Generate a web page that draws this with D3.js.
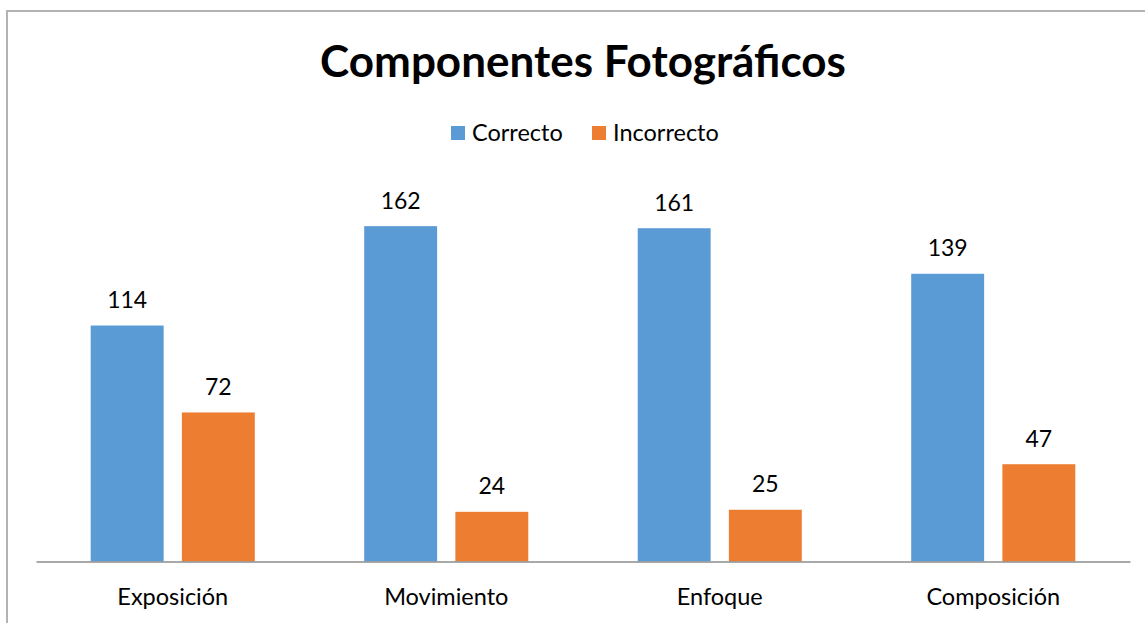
<!doctype html>
<html>
  <head>
    <meta charset="UTF-8">
    <title>Componentes Fotográficos</title>
    <script src="https://d3js.org/d3.v7.min.js"></script>
    <style>
      html, body { margin: 0; padding: 0; background: #fff; }
      svg { display: block; }
      text { font-family: Lato, "Open Sans", sans-serif; fill: #000; }
    </style>
  </head>
  <body>
    <svg id="chart" width="1145" height="623"></svg>
    <script>
      // Data
      const categories = ["Exposición", "Movimiento", "Enfoque", "Composición"];
      const seriesNames = ["Correcto", "Incorrecto"];
      const correcto = [114, 162, 161, 139];
      const incorrecto = [72, 24, 25, 47];
      const colors = ["#5b9bd5", "#ed7d31"];

      const rows = categories.map((c, i) => ({ cat: c, values: [correcto[i], incorrecto[i]] }));

      const svg = d3.select("#chart");
      const width = +svg.attr("width");
      const height = +svg.attr("height");

      // outer frame (only top and left edges are visible in the picture)
      svg.append("rect")
        .attr("x", 7).attr("y", 11)
        .attr("width", width + 10).attr("height", height + 10)
        .attr("fill", "none")
        .attr("stroke", "#b3b3b3")
        .attr("stroke-width", 2);

      const plot = { left: 36, right: 1130, base: 561.5 };

      const x0 = d3.scaleBand()
        .domain(categories)
        .range([plot.left, plot.right])
        .paddingInner(0.4)
        .paddingOuter(0.2);

      const x1 = d3.scaleBand()
        .domain(seriesNames)
        .range([0, x0.bandwidth()])
        .paddingInner(0.2);

      const y = d3.scaleLinear()
        .domain([0, 180])
        .range([plot.base, plot.base - 180 * 2.07]);

      // title
      svg.append("text")
        .attr("x", 583).attr("y", 77)
        .attr("text-anchor", "middle")
        .style("font-size", "44px")
        .style("font-weight", "bold")
        .text("Componentes Fotográficos");

      // legend
      const legend = svg.append("g");
      const legendItems = [{ x: 451, name: seriesNames[0], color: colors[0] },
                           { x: 592, name: seriesNames[1], color: colors[1] }];
      legendItems.forEach(d => {
        legend.append("rect")
          .attr("x", d.x).attr("y", 126)
          .attr("width", 14).attr("height", 14)
          .attr("fill", d.color);
        legend.append("text")
          .attr("x", d.x + 21).attr("y", 141)
          .style("font-size", "23.5px")
          .text(d.name);
      });

      // bars
      const groups = svg.append("g")
        .selectAll("g")
        .data(rows)
        .join("g")
          .attr("transform", d => `translate(${x0(d.cat)},0)`);

      groups.selectAll("rect")
        .data(d => d.values.map((v, i) => ({ key: seriesNames[i], value: v, i })))
        .join("rect")
          .attr("x", d => x1(d.key))
          .attr("y", d => y(d.value))
          .attr("width", x1.bandwidth())
          .attr("height", d => y(0) - y(d.value))
          .attr("fill", d => colors[d.i]);

      groups.selectAll("text.value")
        .data(d => d.values.map((v, i) => ({ key: seriesNames[i], value: v })))
        .join("text")
          .attr("class", "value")
          .attr("x", d => x1(d.key) + x1.bandwidth() / 2)
          .attr("y", d => y(d.value) - 17.5)
          .attr("text-anchor", "middle")
          .style("font-size", "23px")
          .text(d => d.value);

      // category axis
      const axis = svg.append("g")
        .attr("transform", `translate(0,${plot.base})`)
        .call(d3.axisBottom(x0).tickSize(0).tickPadding(0));
      axis.select(".domain")
        .attr("stroke", "#8c8c8c")
        .attr("stroke-width", 1.3);
      axis.selectAll(".tick text")
        .attr("y", 43)
        .attr("dy", 0)
        .style("font-family", "Lato, 'Open Sans', sans-serif")
        .style("font-size", "23.5px")
        .attr("fill", "#000");
    </script>
  </body>
</html>
